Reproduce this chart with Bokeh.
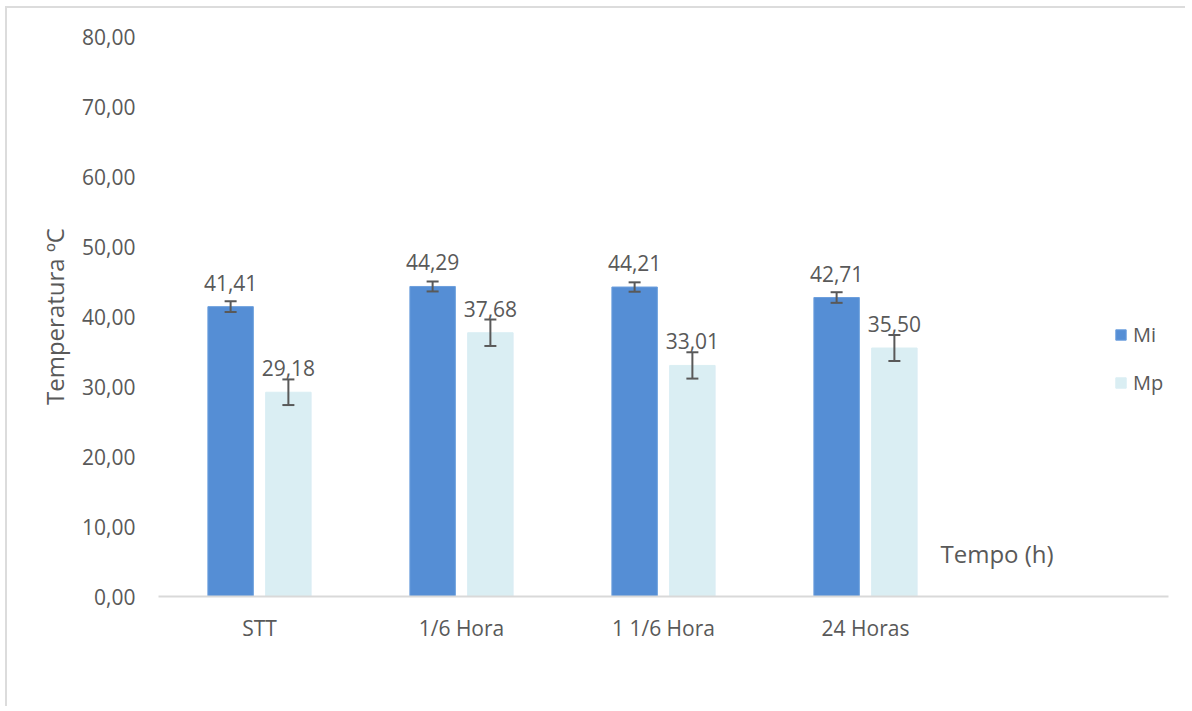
from bokeh.plotting import figure
from bokeh.models import (ColumnDataSource, FactorRange, Whisker, TeeHead, Legend,
                          LegendItem, FixedTicker, Label)
from bokeh.transform import dodge
from bokeh.core.properties import value
from bokeh.embed import file_html
from bokeh.resources import INLINE

# ---- data ----
categories = ["STT", "1/6 Hora", "1 1/6 Hora", "24 Horas"]
mi_values = [41.41, 44.29, 44.21, 42.71]
mp_values = [29.18, 37.68, 33.01, 35.50]
mi_err = [0.76, 0.71, 0.67, 0.76]
mp_err = [1.83, 1.89, 1.88, 1.86]
y_ticks = [0, 10, 20, 30, 40, 50, 60, 70, 80]

FONT = "Open Sans"
TXT = "#595959"
FS = "21px"
FS_T = "24px"

def fmt(v):
    return f"{v:.2f}".replace(".", ",")

src = ColumnDataSource(dict(
    cat=categories,
    mi=mi_values, mp=mp_values,
    mi_lo=[v - e for v, e in zip(mi_values, mi_err)],
    mi_hi=[v + e for v, e in zip(mi_values, mi_err)],
    mp_lo=[v - e for v, e in zip(mp_values, mp_err)],
    mp_hi=[v + e for v, e in zip(mp_values, mp_err)],
    mi_lab=[fmt(v) for v in mi_values],
    mp_lab=[fmt(v) for v in mp_values],
))

factors = categories + [" "]
p = figure(x_range=FactorRange(*factors, range_padding=0), y_range=(0, 80),
           width=1180, height=700, output_backend="svg", toolbar_location=None,
           min_border_left=151, min_border_right=19, min_border_top=28, min_border_bottom=112)
p.styles = {"border-top": "2px solid #dcdcdc", "border-left": "2px solid #dcdcdc",
            "margin-left": "5px", "margin-top": "6px"}
p.outline_line_color = None
p.grid.visible = False
p.background_fill_color = "white"
p.border_fill_color = "white"

OFF = 0.143
W = 0.225
r_mi = p.vbar(x=dodge("cat", -OFF, range=p.x_range), top="mi", width=W, source=src,
              fill_color="#558ED5", line_color="#6C9FDD", line_width=1)
r_mp = p.vbar(x=dodge("cat", OFF, range=p.x_range), top="mp", width=W, source=src,
              fill_color="#DAEEF3", line_color="#DAEEF3", line_width=1)

for base, lo, hi in [(dodge("cat", -OFF, range=p.x_range), "mi_lo", "mi_hi"),
                     (dodge("cat", OFF, range=p.x_range), "mp_lo", "mp_hi")]:
    w = Whisker(base=base, lower=lo, upper=hi, source=src, level="overlay",
                line_color="#595959", line_width=2,
                upper_head=TeeHead(size=12, line_color="#595959", line_width=2),
                lower_head=TeeHead(size=12, line_color="#595959", line_width=2))
    p.add_layout(w)

for xcol, ycol, lab in [(-OFF, "mi", "mi_lab"), (OFF, "mp", "mp_lab")]:
    p.text(x=dodge("cat", xcol, range=p.x_range), y=ycol, text=lab, source=src,
           text_align="center", text_baseline="middle", y_offset=-24,
           text_font=value(FONT), text_font_size=FS, text_color=TXT)

# axes
p.yaxis.ticker = FixedTicker(ticks=y_ticks)
p.yaxis.major_label_overrides = {t: fmt(t) for t in y_ticks}
p.yaxis.axis_line_color = None
p.yaxis.major_tick_line_color = None
p.yaxis.minor_tick_line_color = None
p.yaxis.major_label_standoff = 17
p.yaxis.major_label_text_font = FONT
p.yaxis.major_label_text_font_size = FS
p.yaxis.major_label_text_color = TXT
p.yaxis.axis_label = "Temperatura ºC"
p.yaxis.axis_label_text_font = FONT
p.yaxis.axis_label_text_font_size = FS_T
p.yaxis.axis_label_text_font_style = "normal"
p.yaxis.axis_label_text_color = TXT
p.yaxis.axis_label_standoff = 8

p.xaxis.axis_line_color = "#d9d9d9"
p.xaxis.axis_line_width = 2
p.xaxis.major_tick_line_color = None
p.xaxis.minor_tick_line_color = None
p.xaxis.major_label_standoff = 11
p.xaxis.major_label_text_font = FONT
p.xaxis.major_label_text_font_size = FS
p.xaxis.major_label_text_color = TXT

p.add_layout(Label(x=782, y=43, x_units="screen", y_units="screen", text="Tempo (h)",
                   text_font=FONT, text_font_size=FS_T, text_color=TXT,
                   text_baseline="middle"))

legend = Legend(items=[LegendItem(label="Mi", renderers=[r_mi]),
                       LegendItem(label="Mp", renderers=[r_mp])],
                location=(956, 200), orientation="vertical")
legend.padding = 0
legend.margin = 0
legend.border_line_color = None
legend.background_fill_alpha = 0
legend.glyph_width = 13
legend.glyph_height = 13
legend.label_height = 13
legend.spacing = 21
legend.label_standoff = 6
legend.label_text_font = FONT
legend.label_text_font_size = "20px"
legend.label_text_color = TXT
legend.label_text_baseline = "middle"
p.add_layout(legend, "center")

open("out.html", "w").write(file_html(p, INLINE))
